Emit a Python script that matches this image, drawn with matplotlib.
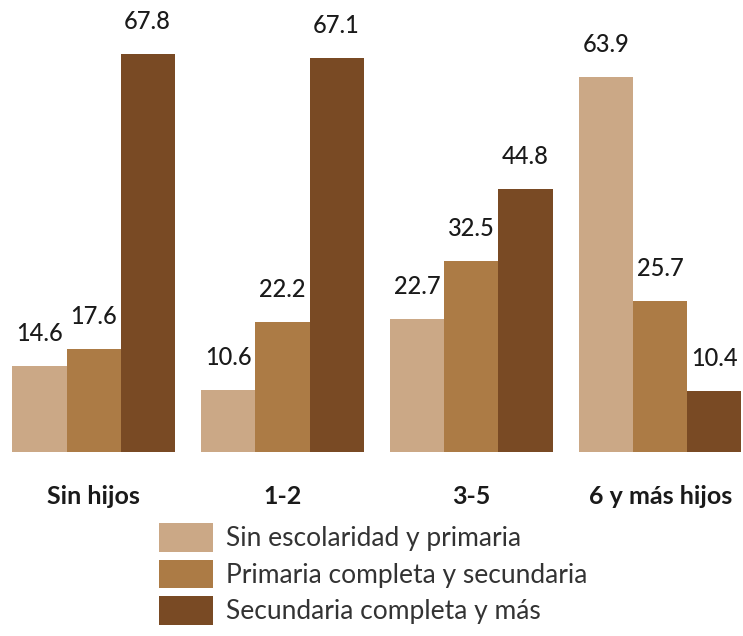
import numpy as np
import matplotlib
matplotlib.use('Agg')
import matplotlib.pyplot as plt
from matplotlib.patches import Patch

groups = ['Sin hijos', '1-2', '3-5', '6 y más hijos']
series = ['Sin escolaridad y primaria', 'Primaria completa y secundaria',
          'Secundaria completa y más']
sin_esc = [14.6, 10.6, 22.7, 63.9]
prim_comp = [17.6, 22.2, 32.5, 25.7]
sec_comp = [67.8, 67.1, 44.8, 10.4]
colors = ['#CBA886', '#AC7B45', '#794A24']

plt.rcParams['font.family'] = ['Lato', 'DejaVu Sans']

fig = plt.figure(figsize=(7.43, 6.36), dpi=100)
ax = fig.add_axes([0, 1 - 452 / 636, 1, 452 / 636])

x = np.arange(len(groups))
w = 0.286
for i, (vals, c) in enumerate(zip([sin_esc, prim_comp, sec_comp], colors)):
    pos = x + (i - 1) * w
    ax.bar(pos, vals, width=w, color=c)
    for p, v in zip(pos, vals):
        ax.annotate(f'{v:.1f}', (p, v), xytext=(0, 15), textcoords='offset points',
                    ha='center', va='bottom', fontsize=17, fontweight='medium',
                    color='#1a1a1a')

ax.set_xlim(-0.495, 3.437)
ax.set_ylim(0, 77)
ax.axis('off')

for xi, g in zip(x, groups):
    fig.text((93.5 + xi * 189) / 743, 1 - 497 / 636, g, ha='center', va='center',
             fontsize=18, fontweight='bold', color='#1a1a1a')

handles = [Patch(facecolor=c) for c in colors]
leg = fig.legend(handles, series, loc='upper left', bbox_to_anchor=(151 / 743, 1 - 515 / 636),
                 frameon=False, fontsize=19, handlelength=2.05, handleheight=1.3,
                 labelspacing=0.3, handletextpad=0.5, borderpad=0.3, borderaxespad=0)
for t in leg.get_texts():
    t.set_color('#333333')

fig.savefig('out.png', dpi=100)
